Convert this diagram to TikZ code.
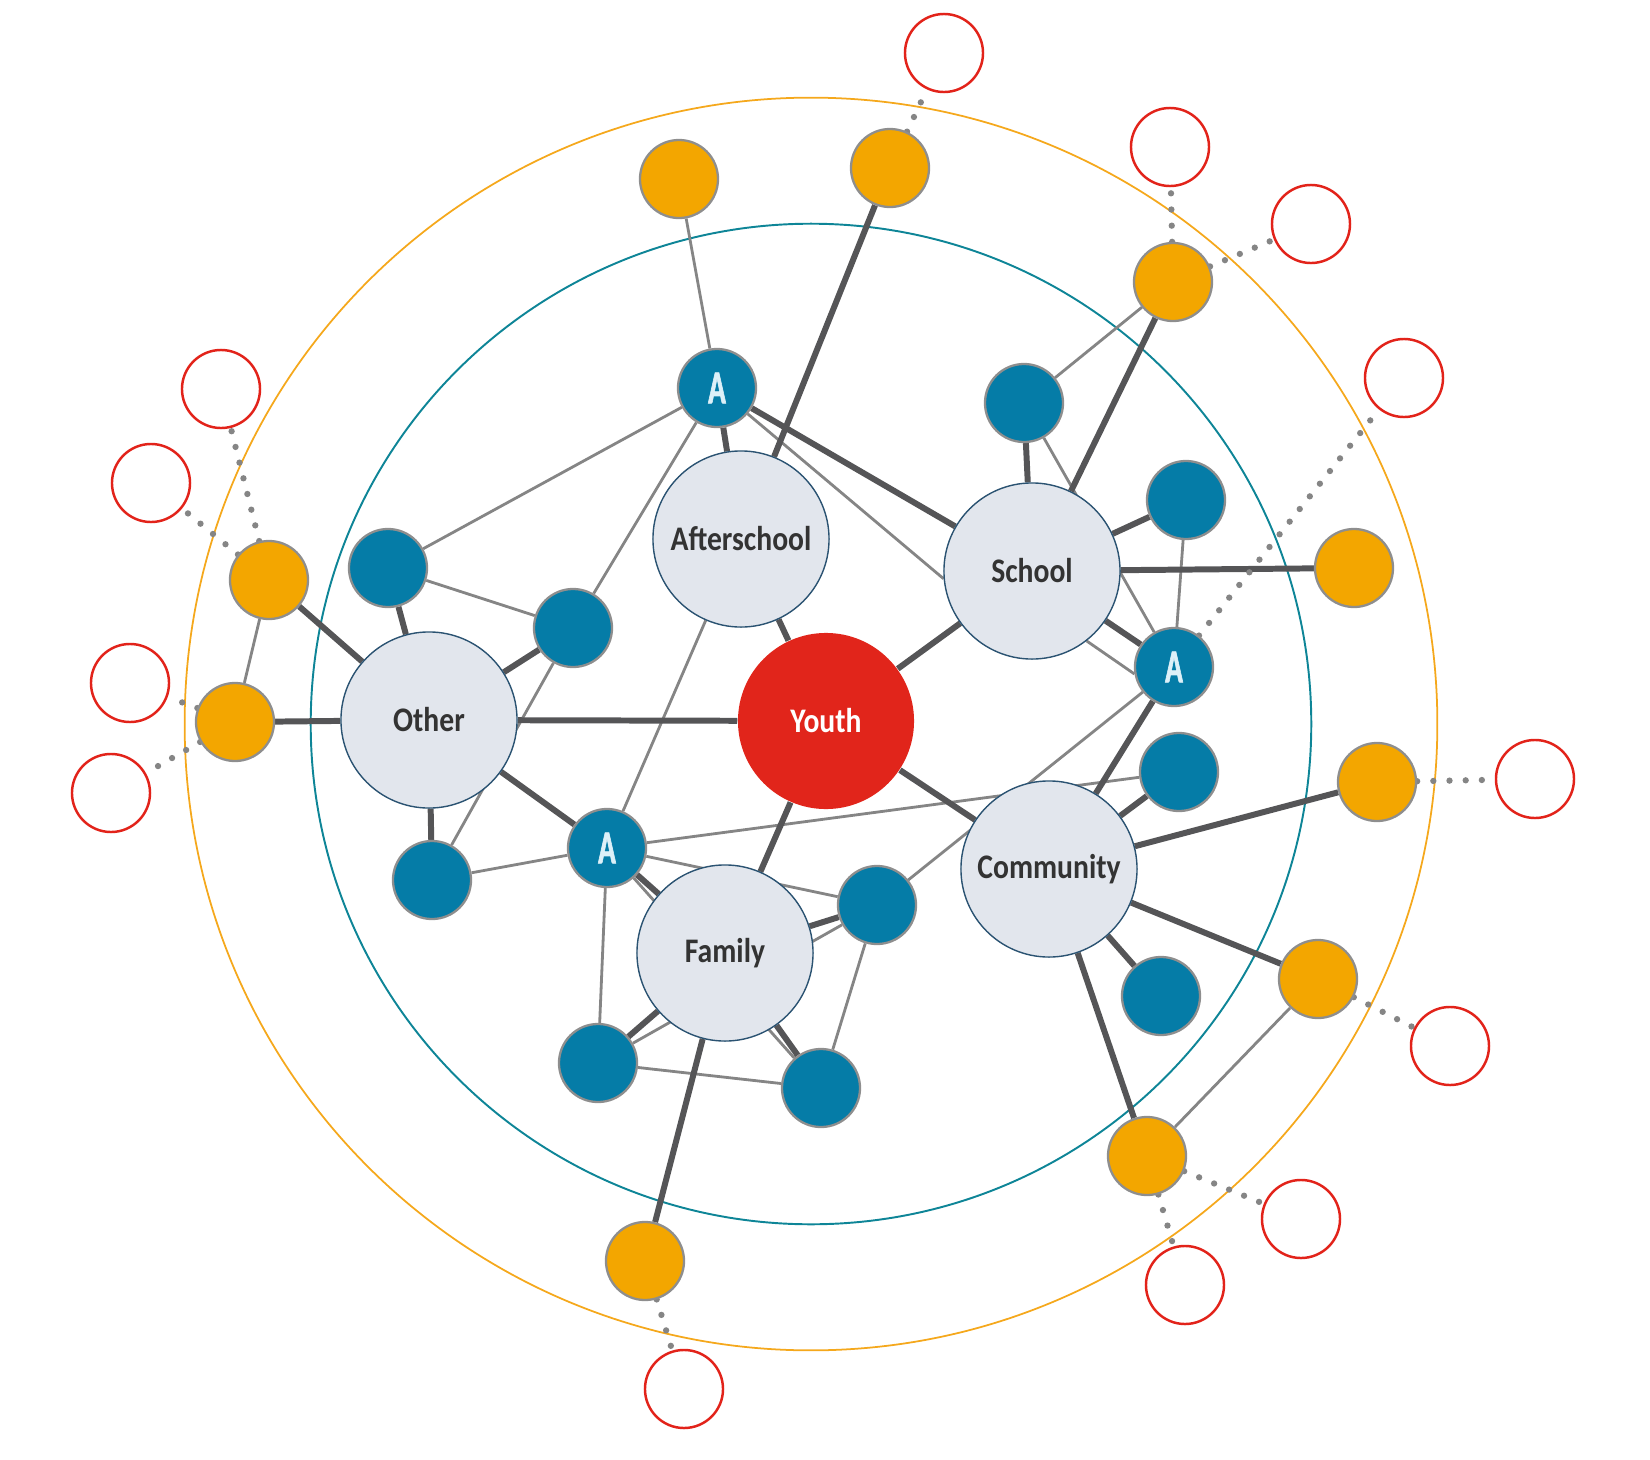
\documentclass[tikz,border=0pt]{standalone}
\usepackage{fontspec}
\usepackage{tikz}
\usetikzlibrary{backgrounds}
\newfontfamily\labelfont[FakeStretch=0.86]{Carlito}
\newfontfamily\afont[FakeStretch=0.62,FakeBold=1.2]{Carlito}
\definecolor{hubfill}{HTML}{E2E6ED}
\definecolor{hubline}{HTML}{2B5372}
\definecolor{youthred}{HTML}{E1251B}
\definecolor{bluefill}{HTML}{057CA7}
\definecolor{amberfill}{HTML}{F3A600}
\definecolor{ringorange}{HTML}{F5A81C}
\definecolor{ringteal}{HTML}{0E8597}
\definecolor{hollow}{HTML}{E2231A}
\definecolor{strongline}{HTML}{555557}
\definecolor{weakline}{HTML}{858585}
\definecolor{rim}{HTML}{8E8E8E}
\definecolor{ink}{HTML}{333333}
\definecolor{aletter}{HTML}{DDF0F8}

\begin{document}
\begin{tikzpicture}[x=0.01cm,y=-0.01cm,
  hubnode/.style={circle,draw=hubline,line width=.4pt,fill=hubfill,minimum size=1.76cm,inner sep=0pt,text=ink,font=\labelfont\bfseries\fontsize{9.8}{11}\selectfont},
  bluenode/.style={circle,draw=rim,line width=.65pt,fill=bluefill,minimum size=.78cm,inner sep=0pt,text=aletter,font=\afont\bfseries\fontsize{13.5}{14}\selectfont},
  ambernode/.style={bluenode,fill=amberfill},
  openring/.style={circle,draw=hollow,line width=.7pt,minimum size=.78cm,inner sep=0pt},
  strongedge/.style={draw=strongline,line width=1.7pt},
  weakedge/.style={draw=weakline,line width=.8pt},
  dotlink/.style={draw=weakline,line width=1.8pt,line cap=round,dash pattern=on 0pt off 4.6pt}]
\useasboundingbox (0,0) rectangle (1650,1460);

\node[hubnode,fill=youthred,draw=none,text=white] (youth) at (826,721) {Youth};
\foreach \n/\x/\y/\t in {after/741/539/Afterschool,school/1032/571/School,other/429/720/Other,
  comm/1049/869/Community,family/725/953/Family}
  \node[hubnode] (\n) at (\x,\y) {\t};

\foreach \n/\x/\y in {a1/717/388,a2/1174/667,a3/607/848}
  \node[bluenode] (\n) at (\x,\y) {A};
\foreach \n/\x/\y in {bst/1024/403,bsr/1186/500,bct/1179/772,bcb/1161/996,bot/388/568,bom/573/628,
  bob/432/880,bfr/877/905,bfl/598/1063,bfb/821/1088}
  \node[bluenode] (\n) at (\x,\y) {};

\foreach \n/\x/\y in {o1/679/179,o2/890/168,o3/1173/282,o4/1354/568,o5/1377/782,o6/1318/979,
  o7/1147/1156,o8/645/1261,o9/235/722,o10/269/580}
  \node[ambernode] (\n) at (\x,\y) {};

\foreach \n/\x/\y in {r1/944/53,r2/1170/147,r3/1311/224,r4/1404/378,r5/1535/779,r6/1450/1046,
  r7/1301/1219,r8/1185/1285,r9/684/1389,r10/111/793,r11/130/683,r12/151/483,r13/221/389}
  \node[openring] (\n) at (\x,\y) {};

\begin{scope}[on background layer]
\draw[ringorange,line width=.5pt] (811,724) circle[radius=6.26cm];
\draw[ringteal,line width=.55pt] (811,724) circle[radius=5cm];
\foreach \a/\b in {o1/a1,a1/bot,a1/bom,bot/bom,bom/bob,bob/a3,o9/o10,after/a3,a3/bct,a3/bfl,a3/bfb,
  a3/bfr,bfl/bfr,bfl/bfb,bfr/bfb,a2/bfr,bst/o3,bst/a2,bsr/a2,o6/o7}
  \draw[weakedge] (\a) -- (\b);
\draw[weakedge] (a1) -- (school.185);
\draw[weakedge] (school.-52) -- (a2.190);
\foreach \a/\b in {youth/after,youth/school,youth/other,youth/family,youth/comm,a1/after,a1/school,
  after/o2,school/bst,school/o3,school/bsr,school/o4,school/a2,other/bot,other/bom,other/a3,other/bob,
  other/o9,other/o10,a3/family,family/bfr,family/bfl,family/bfb,family/o8,comm/a2,comm/bct,comm/o5,
  comm/o6,comm/bcb,comm/o7}
  \draw[strongedge] (\a) -- (\b);
\foreach \a/\b in {o2/r1,o3/r2,o3/r3,a2/r4,o5/r5,o6/r6,o7/r7,o7/r8,o8/r9,o9/r10,o9/r11,o10/r12,o10/r13}
  \draw[dotlink] (\a) -- (\b);
\end{scope}
\end{tikzpicture}
\end{document}
